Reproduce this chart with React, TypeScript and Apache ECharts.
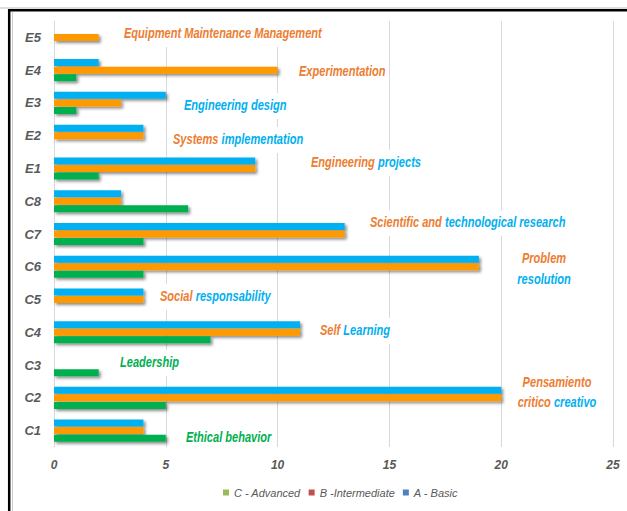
import React, { useEffect, useRef } from 'react';
import * as echarts from 'echarts';

const categories = ['C1', 'C2', 'C3', 'C4', 'C5', 'C6', 'C7', 'C8', 'E1', 'E2', 'E3', 'E4', 'E5'];
const basicValues = [4, 20, 0, 11, 4, 19, 13, 3, 9, 4, 5, 2, 0];
const intermediateValues = [4, 20, 0, 11, 4, 19, 13, 3, 9, 4, 3, 10, 2];
const advancedValues = [5, 5, 2, 7, 0, 4, 4, 6, 2, 0, 1, 1, 0];
const seriesNames = ['A - Basic', 'B -Intermediate', 'C - Advanced'];
const legendOrder = ['C - Advanced', 'B -Intermediate', 'A - Basic'];

const FONT = "'Liberation Sans', Arial, sans-serif";
const ORANGE_TXT = '#ed7d31';
const BLUE = '#00b0f0';
const ORANGE = '#ff9900';
const GREEN = '#00b050';

type Part = [string, 'o' | 'b' | 'g'];
const annotations: { x: number; y: number; parts: Part[]; align?: string }[] = [
  { x: 124, y: 34, parts: [['Equipment Maintenance Management', 'o']] },
  { x: 299, y: 72, parts: [['Experimentation', 'o']] },
  { x: 184, y: 106, parts: [['Engineering design', 'b']] },
  { x: 173, y: 140, parts: [['Systems', 'o'], ['implementation', 'b']] },
  { x: 311, y: 163, parts: [['Engineering', 'o'], ['projects', 'b']] },
  { x: 370, y: 223, parts: [['Scientific and', 'o'], ['technological research', 'b']] },
  { x: 544, y: 259, parts: [['Problem', 'o']], align: 'center' },
  { x: 544, y: 280, parts: [['resolution', 'b']], align: 'center' },
  { x: 160, y: 297, parts: [['Social', 'o'], ['responsability', 'b']] },
  { x: 320, y: 331, parts: [['Self', 'o'], ['Learning', 'b']] },
  { x: 120, y: 363, parts: [['Leadership', 'g']] },
  { x: 557, y: 383, parts: [['Pensamiento', 'o']], align: 'center' },
  { x: 557, y: 403, parts: [['critico', 'o'], ['creativo', 'b']], align: 'center' },
  { x: 186, y: 438, parts: [['Ethical behavior', 'g']] },
];

const TEXT_SIZE = 14;
const TEXT_SCALE = 0.79;
const PAD_X = 4;
const richBase = { fontFamily: FONT, fontSize: TEXT_SIZE, fontWeight: 'bold', fontStyle: 'italic' };
const rich = {
  o: { ...richBase, fill: ORANGE_TXT, color: ORANGE_TXT },
  b: { ...richBase, fill: BLUE, color: BLUE },
  g: { ...richBase, fill: GREEN, color: GREEN },
};

const toData = (arr: number[]) => arr.map((v) => (v === 0 ? '-' : v));

export default function App() {
  const ref = useRef<HTMLDivElement>(null);
  useEffect(() => {
    const chart = echarts.init(ref.current!, null, { renderer: 'svg' });
    const barShadow = { shadowBlur: 3, shadowColor: 'rgba(0,0,0,0.45)', shadowOffsetX: 2, shadowOffsetY: 2 };
    const colors = [BLUE, ORANGE, GREEN];
    const values = [basicValues, intermediateValues, advancedValues];
    const legendColors: Record<string, string> = {
      'C - Advanced': '#9bbb59',
      'B -Intermediate': '#c0504d',
      'A - Basic': '#4f81bd',
    };
    const graphics: any[] = [
      { type: 'line', shape: { x1: 0, y1: 8, x2: 627, y2: 8 }, style: { stroke: '#bbb', lineWidth: 1 } },
      { type: 'line', shape: { x1: 9, y1: 10.2, x2: 627, y2: 10.2 }, style: { stroke: '#000', lineWidth: 2.5 } },
      { type: 'line', shape: { x1: 9.2, y1: 9, x2: 9.2, y2: 511 }, style: { stroke: '#000', lineWidth: 2.5 } },
      { type: 'line', shape: { x1: 12.5, y1: 12, x2: 12.5, y2: 511 }, style: { stroke: '#ccc', lineWidth: 1 } },
    ];
    annotations.forEach((a) => {
      const left = !a.align || a.align === 'left';
      graphics.push({
        type: 'text',
        x: left ? a.x - PAD_X * TEXT_SCALE : a.x,
        y: a.y,
        scaleX: TEXT_SCALE,
        z: 10,
        style: {
          text: a.parts.map(([t, c]) => `{${c}|${t}}`).join(' '),
          rich,
          fontFamily: FONT,
          fontSize: TEXT_SIZE,
          fontWeight: 'bold',
          fontStyle: 'italic',
          align: a.align || 'left',
          verticalAlign: 'middle',
          backgroundColor: '#fff',
          padding: [6, PAD_X],
        },
      });
    });
    chart.setOption({
      animation: false,
      backgroundColor: '#fff',
      grid: { left: 54, right: 14, top: 21, bottom: 64, containLabel: false },
      legend: {
        data: legendOrder.map((n) => ({ name: n, itemStyle: { color: legendColors[n] } })),
        bottom: 8,
        left: 218,
        itemWidth: 6,
        itemHeight: 6,
        itemGap: 8,
        icon: 'rect',
        textStyle: { fontFamily: FONT, fontSize: 11, fontStyle: 'italic', color: '#595959' },
      },
      xAxis: {
        type: 'value',
        min: 0,
        max: 25,
        interval: 5,
        axisLine: { show: false },
        axisTick: { show: false },
        splitLine: { show: true, lineStyle: { color: '#d9d9d9', width: 1 } },
        axisLabel: { fontFamily: FONT, fontSize: 12, fontWeight: 'bold', fontStyle: 'italic', color: '#595959', margin: 12 },
      },
      yAxis: {
        type: 'category',
        data: categories,
        axisLine: { show: true, lineStyle: { color: '#d9d9d9' } },
        axisTick: { show: false },
        axisLabel: { fontFamily: FONT, fontSize: 13, fontWeight: 'bold', fontStyle: 'italic', color: '#595959', margin: 13 },
      },
      series: seriesNames.map((name, i) => ({
        name,
        type: 'bar',
        data: toData(values[i]),
        barWidth: 7,
        barGap: '8%',
        itemStyle: { color: colors[i], ...barShadow },
      })),
      graphic: graphics,
    });
    return () => chart.dispose();
  }, []);
  return <div ref={ref} style={{ position: 'absolute', left: 0, top: 0, width: 627, height: 511 }} />;
}
